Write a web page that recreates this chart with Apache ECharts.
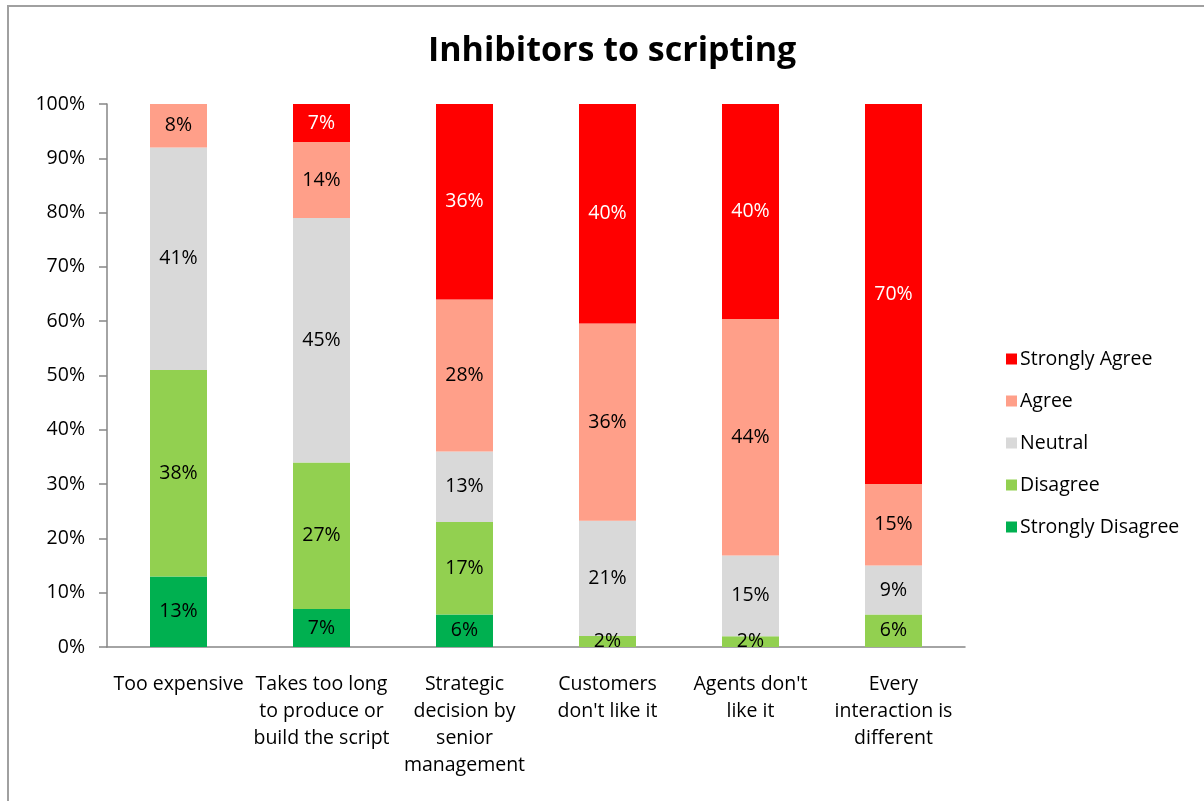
<!DOCTYPE html>
<html>
<head>
<meta charset="utf-8">
<script src="https://cdn.jsdelivr.net/npm/echarts@6/dist/echarts.min.js"></script>
<style>
  html, body { margin: 0; padding: 0; background: #fff; }
  #chart { width: 1204px; height: 801px; }
</style>
</head>
<body>
<div id="chart"></div>
<script>
// Survey responses per inhibitor, in percent of respondents
const categories = [
  "Too expensive",
  "Takes too long\nto produce or\nbuild the script",
  "Strategic\ndecision by\nsenior\nmanagement",
  "Customers\ndon't like it",
  "Agents don't\nlike it",
  "Every\ninteraction is\ndifferent"
];
const stronglyDisagree = [13, 7, 6, 0, 0, 0];
const disagree         = [38, 27, 17, 2, 2, 6];
const neutral          = [41, 45, 13, 21, 15, 9];
const agree            = [8, 14, 28, 36, 44, 15];
const stronglyAgree    = [0, 7, 36, 40, 40, 70];
const yTicks = [0, 10, 20, 30, 40, 50, 60, 70, 80, 90, 100];

const FONT = "'Open Sans', 'Noto Sans', sans-serif";

const seriesDefs = [
  { name: "Strongly Disagree", values: stronglyDisagree, color: "#00B050", text: "#000" },
  { name: "Disagree",          values: disagree,         color: "#92D050", text: "#000" },
  { name: "Neutral",           values: neutral,          color: "#D9D9D9", text: "#000" },
  { name: "Agree",             values: agree,            color: "#FF9F89", text: "#000" },
  { name: "Strongly Agree",    values: stronglyAgree,    color: "#FF0000", text: "#fff" }
];

// 100% stacking: each segment is its share of the category total
const totals = categories.map((_, i) =>
  seriesDefs.reduce((s, d) => s + d.values[i], 0));

const chart = echarts.init(document.getElementById("chart"));

chart.setOption({
  animation: false,
  textStyle: { fontFamily: FONT },
  title: {
    text: "Inhibitors to scripting",
    left: 423,
    top: 29,
    textStyle: { fontFamily: FONT, fontSize: 34, fontWeight: "bold", color: "#000" }
  },
  graphic: [{
    type: "rect",
    shape: { x: 8, y: 6, width: 1400, height: 1000 },
    style: { fill: "none", stroke: "#a0a0a0", lineWidth: 2 },
    silent: true
  }],
  legend: {
    orient: "vertical",
    left: 1001,
    top: 343,
    itemWidth: 11,
    itemHeight: 11,
    itemGap: 20,
    icon: "rect",
    data: ["Strongly Agree", "Agree", "Neutral", "Disagree", "Strongly Disagree"],
    textStyle: { fontFamily: FONT, fontSize: 19.5, color: "#000", lineHeight: 22, padding: [0, 0, 0, -2] }
  },
  grid: { left: 107, right: 239, top: 104, bottom: 154, containLabel: false },
  xAxis: {
    type: "category",
    data: categories,
    axisLine: { lineStyle: { color: "#868686", width: 1.5 } },
    axisTick: { length: 7, lineStyle: { color: "#868686", width: 1.5 } },
    axisLabel: {
      interval: 0,
      margin: 24,
      fontFamily: FONT,
      fontSize: 19.5,
      lineHeight: 27,
      color: "#000",
      align: "center",
      verticalAlign: "top"
    }
  },
  yAxis: {
    type: "value",
    min: yTicks[0],
    max: yTicks[yTicks.length - 1],
    interval: 10,
    splitLine: { show: false },
    axisLine: { show: true, lineStyle: { color: "#868686", width: 1.5 } },
    axisTick: { show: true, length: 8, lineStyle: { color: "#868686", width: 1.5 } },
    axisLabel: {
      formatter: "{value}%",
      margin: 22,
      fontFamily: FONT,
      fontSize: 19.5,
      color: "#000"
    }
  },
  series: seriesDefs.map(d => ({
    name: d.name,
    type: "bar",
    stack: "total",
    barWidth: 57,
    itemStyle: { color: d.color },
    data: d.values.map((v, i) => v === 0 ? null : v / totals[i] * 100),
    label: {
      show: true,
      position: "inside",
      fontFamily: FONT,
      fontSize: 19.5,
      color: d.text,
      formatter: p => d.values[p.dataIndex] + "%"
    }
  }))
});
</script>
</body>
</html>
